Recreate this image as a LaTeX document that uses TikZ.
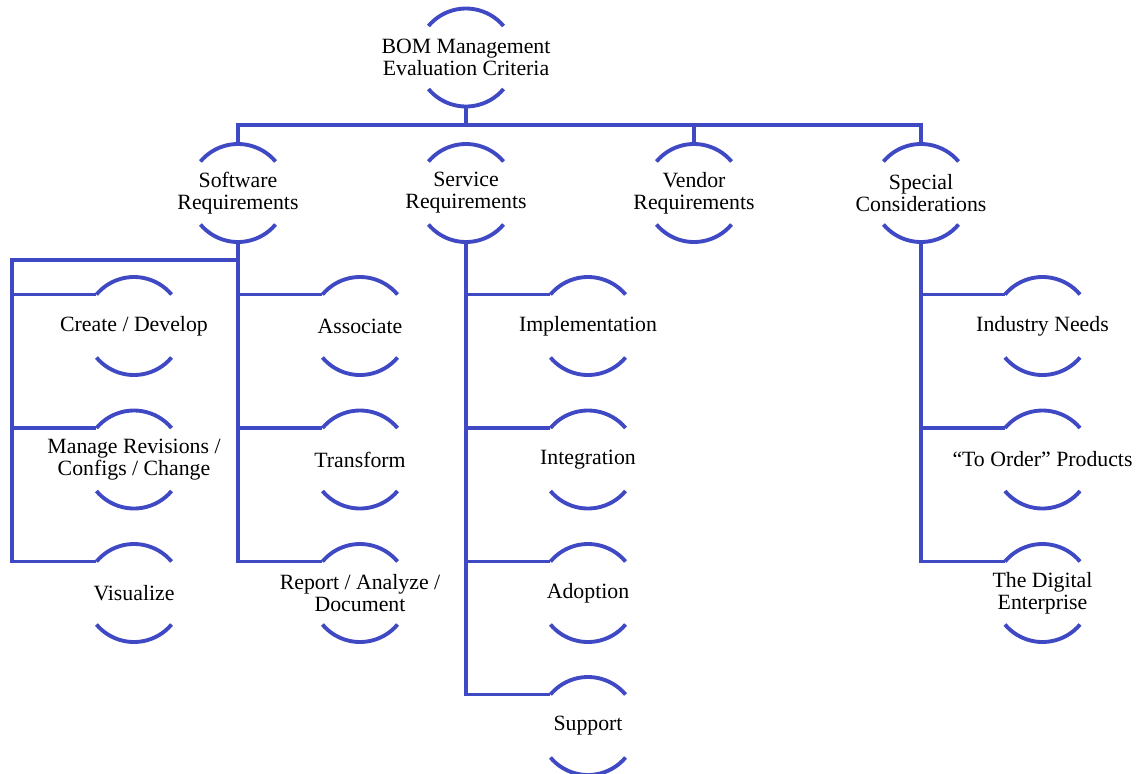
\documentclass[tikz,border=0pt]{standalone}
\usepackage{fontspec}
\setmainfont{Liberation Serif}
\usepackage{xcolor}
\definecolor{bomblue}{HTML}{4049C4}

\begin{document}
\begin{tikzpicture}[
    crit/.style={inner sep=0pt, outer sep=0pt,
      align=center, font=\fontsize{12.4}{12.5}\selectfont},
    link/.style={draw=bomblue, line width=2.2pt}]
  \useasboundingbox (0,0) rectangle (22.8,-15.46);
  % top
  \node[crit] (root) at (9.32,-1.15) {BOM Management\\Evaluation Criteria};
  % first level
  \node[crit] (sw) at (4.76,-3.86) {Software\\Requirements};
  \node[crit] (sv) at (9.32,-3.86) {Service\\Requirements};
  \node[crit] (vd) at (13.88,-3.86) {Vendor\\Requirements};
  \node[crit] (sc) at (18.42,-3.86) {Special\\Considerations};
  % software
  \node[crit] (cd) at (2.68,-6.52) {Create / Develop};
  \node[crit] (mr) at (2.68,-9.19) {Manage Revisions /\\Configs / Change};
  \node[crit] (vi) at (2.68,-11.86) {Visualize};
  \node[crit] (as) at (7.2,-6.52) {Associate};
  \node[crit] (tf) at (7.2,-9.19) {Transform};
  \node[crit] (rp) at (7.2,-11.86) {Report / Analyze /\\Document};
  % service
  \node[crit] (im) at (11.76,-6.52) {Implementation};
  \node[crit] (ig) at (11.76,-9.19) {Integration};
  \node[crit] (ad) at (11.76,-11.86) {Adoption};
  \node[crit] (su) at (11.76,-14.52) {Support};
  % special
  \node[crit] (in) at (20.85,-6.52) {Industry Needs};
  \node[crit] (to) at (20.85,-9.19) {``To Order'' Products};
  \node[crit] (de) at (20.85,-11.86) {The Digital\\Enterprise};

  % the two arcs round each label, plus points on them
  \foreach \n in {root,sw,sv,vd,sc,cd,mr,vi,as,tf,rp,im,ig,ad,su,in,to,de} {
    \path (\n.center) ++(90:0.98) coordinate (\n-top);
    \path (\n.center) ++(270:0.98) coordinate (\n-bot);
    \path (\n.center) ++(140:0.98) coordinate (\n-in);
    \draw[link] (\n-in) arc[start angle=140, end angle=40, radius=0.98cm];
    \path (\n.center) ++(220:0.98) coordinate (\n-lo);
    \draw[link] (\n-lo) arc[start angle=220, end angle=320, radius=0.98cm];
  }

  \coordinate (bus) at (9.32,-2.5);
  \coordinate (swl) at (4.76,-5.2);
  \coordinate (lcol) at (0.24,-5.2);

  \draw[link] (root-bot) -- (bus);
  \draw[link] (sw-top) |- (bus) -| (sc-top);
  \draw[link] (vd-top) -- (vd-top |- bus);

  \draw[link] (sw-bot) |- (rp-in);
  \draw[link] (sv-bot) |- (su-in);
  \draw[link] (sc-bot) |- (de-in);
  \draw[link] (swl) -- (lcol) |- (vi-in);
  \foreach \c/\p in {as/sw,tf/sw,im/sv,ig/sv,ad/sv,in/sc,to/sc}
    \draw[link] (\c-in) -- (\c-in -| \p-bot);
  \foreach \c in {cd,mr}
    \draw[link] (\c-in) -- (\c-in -| lcol);
\end{tikzpicture}
\end{document}
